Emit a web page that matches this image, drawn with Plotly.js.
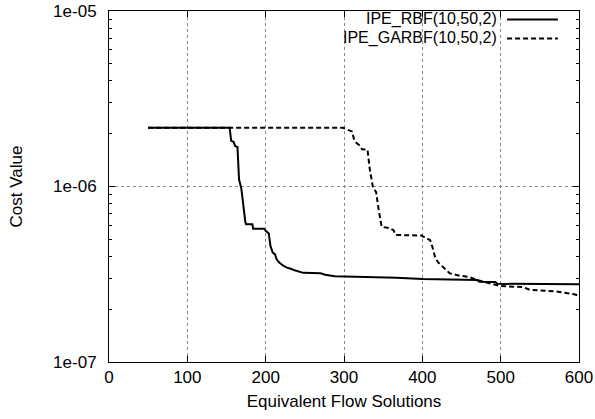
<!DOCTYPE html>
<html>
<head>
<meta charset="utf-8">
<script src="https://cdn.plot.ly/plotly-3.0.1.min.js"></script>
<style>html,body{margin:0;padding:0;background:#fff;}#chart{width:595px;height:419px;}</style>
</head>
<body>
<div id="chart"></div>
<script>
var seriesNames = ["IPE_RBF(10,50,2)", "IPE_GARBF(10,50,2)"];

var rbfX = [50, 154, 156, 159, 161, 164, 166, 168, 169, 174, 175, 183, 184, 198, 200, 204, 206, 209, 212, 214, 217, 222, 227, 232, 237, 248, 270, 276, 288, 367, 400, 470, 473, 493, 496, 600];
var rbfY = [2.16e-6, 2.16e-6, 1.82e-6, 1.80e-6, 1.70e-6, 1.68e-6, 1.10e-6, 1.00e-6, 0.97e-6, 6.3e-7, 6.1e-7, 6.1e-7, 5.75e-7, 5.75e-7, 5.6e-7, 5.4e-7, 4.6e-7, 4.2e-7, 4.1e-7, 3.85e-7, 3.7e-7, 3.55e-7, 3.45e-7, 3.40e-7, 3.33e-7, 3.22e-7, 3.20e-7, 3.14e-7, 3.08e-7, 3.02e-7, 2.97e-7, 2.93e-7, 2.87e-7, 2.86e-7, 2.79e-7, 2.77e-7];

var garbfX = [50, 299, 305, 310, 313, 316, 321, 323, 330, 333, 337, 341, 344, 348, 357, 363, 366, 399, 404, 410, 413, 416, 420, 428, 435, 448, 460, 471, 486, 499, 529, 537, 571, 594, 600];
var garbfY = [2.16e-6, 2.16e-6, 2.10e-6, 2.06e-6, 1.85e-6, 1.77e-6, 1.70e-6, 1.63e-6, 1.62e-6, 1.25e-6, 0.99e-6, 0.93e-6, 0.75e-6, 0.59e-6, 0.58e-6, 0.565e-6, 0.53e-6, 0.525e-6, 0.51e-6, 0.495e-6, 0.45e-6, 0.40e-6, 0.37e-6, 0.34e-6, 0.32e-6, 0.31e-6, 0.305e-6, 0.292e-6, 0.28e-6, 0.271e-6, 0.267e-6, 0.258e-6, 0.252e-6, 0.243e-6, 0.238e-6];

var xTicks = [0, 100, 200, 300, 400, 500, 600];
var yTicks = [1e-7, 1e-6, 1e-5];
var yTickText = ["1e-07", "1e-06", "1e-05"];
var yMinorTicks = [2e-7, 3e-7, 4e-7, 5e-7, 6e-7, 7e-7, 8e-7, 9e-7, 2e-6, 3e-6, 4e-6, 5e-6, 6e-6, 7e-6, 8e-6, 9e-6];

var FONT = "Liberation Sans, Arial, sans-serif";
var FS = 17;
var LFS = 16;

var traces = [
  {x: rbfX, y: rbfY, type: "scatter", mode: "lines", name: seriesNames[0],
   line: {color: "#000", width: 2}},
  {x: garbfX, y: garbfY, type: "scatter", mode: "lines", name: seriesNames[1],
   line: {color: "#000", width: 2, dash: "5px,3px"}}
];

var layout = {
  width: 595, height: 419,
  margin: {l: 109, r: 16, t: 11, b: 57},
  paper_bgcolor: "#fff", plot_bgcolor: "#fff",
  showlegend: false,
  font: {family: FONT, size: FS, color: "#000"},
  xaxis: {
    range: [0, 600], tickmode: "array", tickvals: xTicks,
    ticks: "inside", ticklen: 6, tickcolor: "#000", tickwidth: 1,
    showline: true, linecolor: "#000", linewidth: 1, mirror: "allticks",
    showgrid: true, gridcolor: "#888", griddash: "dot", gridwidth: 1,
    zeroline: false,
    title: {text: "Equivalent Flow Solutions", font: {size: FS}, standoff: 8},
    tickfont: {size: FS}
  },
  yaxis: {
    type: "log", range: [-7, -5], tickmode: "array", tickvals: yTicks, ticktext: yTickText,
    ticks: "inside", ticklen: 6, tickcolor: "#000", tickwidth: 1,
    showline: true, linecolor: "#000", linewidth: 1, mirror: "allticks",
    showgrid: true, gridcolor: "#888", griddash: "dot", gridwidth: 1,
    zeroline: false,
    minor: {tickmode: "array", tickvals: yMinorTicks, ticks: "inside", ticklen: 3, tickcolor: "#000", showgrid: false},
    ticklabelstandoff: 8,
    title: {text: "Cost Value", font: {size: FS}, standoff: 26},
    tickfont: {size: FS}
  },
  shapes: [
    {type: "rect", xref: "paper", yref: "paper", x0: 0.48, x1: 1, y0: 0.889, y1: 1,
     fillcolor: "#fff", line: {width: 0}, layer: "between"},
    {type: "line", xref: "paper", yref: "paper", x0: 0.847, x1: 0.955, y0: 0.9758, y1: 0.9758,
     line: {color: "#000", width: 2}, layer: "above"},
    {type: "line", xref: "paper", yref: "paper", x0: 0.847, x1: 0.955, y0: 0.9217, y1: 0.9217,
     line: {color: "#000", width: 2, dash: "5px,3px"}, layer: "above"}
  ],
  annotations: [
    {xref: "paper", yref: "paper", x: 0.828, y: 0.9758, xanchor: "right", yanchor: "middle",
     text: seriesNames[0], showarrow: false, font: {size: LFS}, borderpad: 0},
    {xref: "paper", yref: "paper", x: 0.828, y: 0.9217, xanchor: "right", yanchor: "middle",
     text: seriesNames[1], showarrow: false, font: {size: LFS}, borderpad: 0}
  ]
};

Plotly.newPlot("chart", traces, layout, {displayModeBar: false, staticPlot: true});
</script>
</body>
</html>
